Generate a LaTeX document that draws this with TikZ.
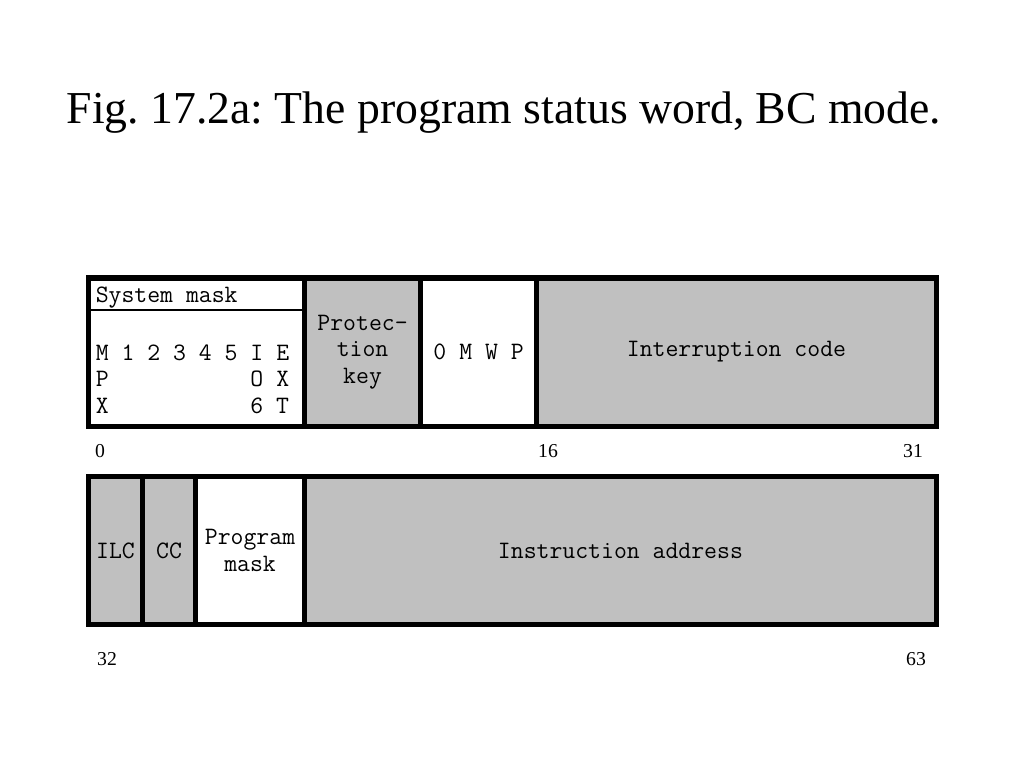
\documentclass[tikz,border=0pt]{standalone}
\usepackage{fontspec}
\setmainfont{Liberation Serif}
\usepackage{xcolor}
\usetikzlibrary{positioning}
\definecolor{fieldGray}{RGB}{192, 192, 192}
\tikzset{
  field/.style={
    rectangle, draw=black, line width=3.6pt,
    outer sep=0pt, inner sep=0pt,
    minimum height=3.7cm,
    align=center, font=\fontsize{17.8}{18.8}\selectfont\ttfamily
  },
  grayfield/.style={field, fill=fieldGray},
  whitefield/.style={field, fill=white},
  bitnum/.style={font=\fontsize{14}{16}\selectfont, inner sep=0pt},
  monotext/.style={font=\fontsize{17.8}{18.8}\selectfont\ttfamily, inner sep=0pt, align=left}
}
\begin{document}
\begin{tikzpicture}[x=0.025cm, y=-0.025cm]
  \useasboundingbox (0,0) rectangle (1024,768);

  \node[font=\fontsize{32.5}{38}\selectfont] (title) at (504,113) {Fig.\ 17.2a:\ The program status word, BC mode.};

  % first word: bits 0-31
  \node[whitefield, minimum width=5.4cm, anchor=north west] (sysmask) at (88.5,278) {};
  \node[grayfield, minimum width=2.9cm, right=0pt of sysmask] (protkey) {Protec-\\tion\\key};
  \node[whitefield, minimum width=2.9cm, right=0pt of protkey] (mwp) {0 M W P};
  \node[grayfield, minimum width=9.99cm, right=0pt of mwp] (intcode) {Interruption code};

  \node[monotext, anchor=west] (smtitle) at (95.5,298) {System mask};
  \draw[line width=0.8pt] ([yshift=-0.8cm]sysmask.north west) -- ([yshift=-0.8cm]sysmask.north east);
  \node[monotext, anchor=west] (smbits) at (95.5,379) {M~1~2~3~4~5~I~E\\P~~~~~~~~~~~O~X\\X~~~~~~~~~~~6~T};

  \node[bitnum] (b0)  at (100,451) {0};
  \node[bitnum] (b16) at (548,451) {16};
  \node[bitnum] (b31) at (913,451) {31};

  % second word: bits 32-63
  \node[grayfield, minimum width=1.35cm, anchor=north west] (ilc) at (88.5,476.5) {ILC};
  \node[grayfield, minimum width=1.325cm, right=0pt of ilc] (cc) {CC};
  \node[whitefield, minimum width=2.725cm, right=0pt of cc] (progmask) {Program\\mask};
  \node[grayfield, minimum width=15.79cm, right=0pt of progmask] (instaddr) {Instruction address};

  \node[bitnum] (b32) at (107,659) {32};
  \node[bitnum] (b63) at (916,659) {63};
\end{tikzpicture}
\end{document}
